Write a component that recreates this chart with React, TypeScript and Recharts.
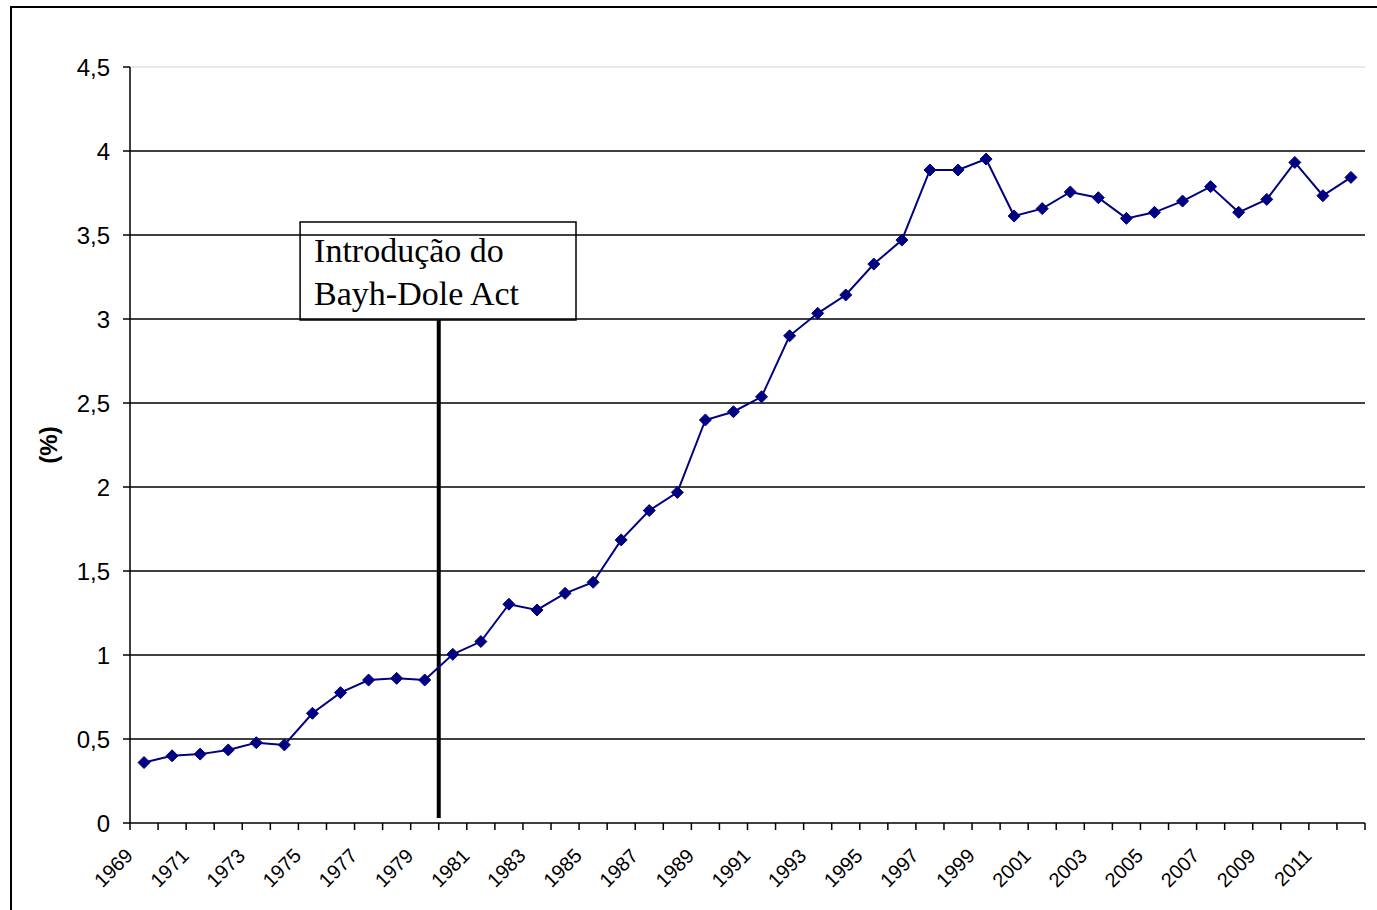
import React from "react";
import { LineChart, Line, XAxis, YAxis, ReferenceLine, ReferenceArea } from "recharts";

const years = [
  1969, 1970, 1971, 1972, 1973, 1974, 1975, 1976, 1977, 1978, 1979,
  1980, 1981, 1982, 1983, 1984, 1985, 1986, 1987, 1988, 1989, 1990,
  1991, 1992, 1993, 1994, 1995, 1996, 1997, 1998, 1999, 2000, 2001,
  2002, 2003, 2004, 2005, 2006, 2007, 2008, 2009, 2010, 2011, 2012,
];

const shares = [
  0.36, 0.4, 0.41, 0.435, 0.478, 0.465, 0.653, 0.776, 0.851, 0.861, 0.851,
  1.004, 1.08, 1.302, 1.268, 1.367, 1.433, 1.685, 1.86, 1.968, 2.399, 2.448,
  2.537, 2.9, 3.034, 3.143, 3.327, 3.47, 3.887, 3.887, 3.952, 3.613, 3.657,
  3.756, 3.722, 3.599, 3.635, 3.702, 3.788, 3.635, 3.712, 3.932, 3.734, 3.843,
];

const labelYears = [
  1969, 1971, 1973, 1975, 1977, 1979, 1981, 1983, 1985, 1987, 1989,
  1991, 1993, 1995, 1997, 1999, 2001, 2003, 2005, 2007, 2009, 2011,
];

const yTicks = [0, 0.5, 1, 1.5, 2, 2.5, 3, 3.5, 4, 4.5];

const data = years.map((year, i) => ({ year, value: shares[i] }));

// category boundaries (tick marks sit between the years, like Excel)
const boundaries = [...years.map((y) => y - 0.5), years[years.length - 1] + 0.5];
const xTicks = [...boundaries, ...labelYears].sort((a, b) => a - b);

const AXIS_FONT = "'Liberation Sans', Arial, sans-serif";
const NAVY = "#000080";

const XTick = ({ x, y, payload }: any) => {
  const v = payload.value;
  if (v % 1 !== 0) {
    return <line x1={x} x2={x} y1={y} y2={y + 7} stroke="#000" strokeWidth={1.5} />;
  }
  const ax = x - 10;
  const ay = y + 34;
  return (
    <text
      x={ax}
      y={ay}
      transform={`rotate(-45 ${ax} ${ay})`}
      textAnchor="end"
      fontFamily={AXIS_FONT}
      fontSize={20}
      fill="#000"
    >
      {v}
    </text>
  );
};

const Diamond = ({ cx, cy }: any) => {
  if (cx == null || cy == null) return null;
  const r = 6;
  return (
    <polygon
      points={`${cx},${cy - r} ${cx + r},${cy} ${cx},${cy + r} ${cx - r},${cy}`}
      fill={NAVY}
      stroke={NAVY}
      strokeWidth={1}
    />
  );
};

const NoteLabel = ({ viewBox }: any) => {
  const { x, y } = viewBox;
  return (
    <text fontFamily="'Liberation Serif', 'Times New Roman', serif" fontSize={34} fill="#000">
      <tspan x={x + 14} y={y + 40}>Introdução do</tspan>
      <tspan x={x + 14} y={y + 83}>Bayh-Dole Act</tspan>
    </text>
  );
};

export default function App() {
  return (
    <div
      style={{
        position: "fixed",
        left: 0,
        top: 0,
        width: 1377,
        height: 910,
        overflow: "hidden",
        background: "#fff",
      }}
    >
      <div
        style={{
          position: "absolute",
          left: 10,
          top: 6,
          width: 1420,
          height: 960,
          border: "2px solid #000",
        }}
      />
      <div style={{ position: "absolute", left: 0, top: 0 }}>
        <LineChart width={1377} height={910} data={data} margin={{ top: 67, right: 12, bottom: 0, left: 0 }}>
          <XAxis
            dataKey="year"
            type="number"
            domain={[1968.5, 2012.5]}
            ticks={xTicks}
            interval={0}
            tick={<XTick />}
            tickLine={false}
            tickSize={0}
            tickMargin={0}
            axisLine={{ stroke: "#000", strokeWidth: 1.5 }}
            height={87}
            allowDataOverflow
          />
          <YAxis
            type="number"
            domain={[0, 4.5]}
            ticks={yTicks}
            interval={0}
            width={130}
            tickSize={7}
            tickMargin={13}
            tickLine={{ stroke: "#000", strokeWidth: 1.5 }}
            axisLine={{ stroke: "#000", strokeWidth: 1.5 }}
            tickFormatter={(v: number) => String(v).replace(".", ",")}
            tick={{ fill: "#000", fontFamily: AXIS_FONT, fontSize: 24 }}
            label={{
              value: "(%)",
              angle: -90,
              position: "insideLeft",
              offset: 0,
              dx: 48,
              dy: 0,
              style: { fontFamily: AXIS_FONT, fontSize: 24, fontWeight: "bold", fill: "#000", textAnchor: "middle" },
            }}
          />
          {yTicks
            .filter((t) => t > 0)
            .map((t) => (
              <ReferenceLine
                key={t}
                y={t}
                stroke={t === 4.5 ? "#d0d0d0" : "#000"}
                strokeWidth={t === 4.5 ? 1 : 1.5}
              />
            ))}
          <ReferenceLine
            segment={[
              { x: 1979.5, y: 0.03 },
              { x: 1979.5, y: 2.994 },
            ]}
            stroke="#000"
            strokeWidth={4}
          />
          <Line
            type="linear"
            dataKey="value"
            stroke={NAVY}
            strokeWidth={2}
            dot={<Diamond />}
            activeDot={false}
            isAnimationActive={false}
          />
          <ReferenceArea
            x1={1974.56}
            x2={1984.39}
            y1={2.994}
            y2={3.577}
            fill="#fff"
            fillOpacity={1}
            stroke="#000"
            strokeWidth={1.5}
            label={<NoteLabel />}
          />
        </LineChart>
      </div>
    </div>
  );
}
